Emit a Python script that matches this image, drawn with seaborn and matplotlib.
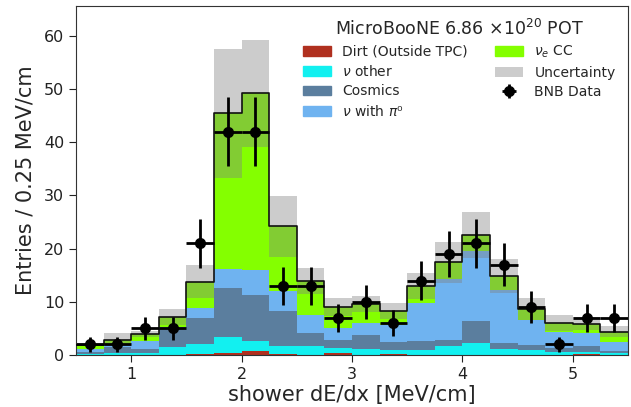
import numpy as np
import pandas as pd
import matplotlib
matplotlib.use("Agg")
import matplotlib.pyplot as plt
from matplotlib.patches import Patch
import seaborn as sns

# ---- data -------------------------------------------------------------
bin_edges = [0.5, 0.75, 1.0, 1.25, 1.5, 1.75, 2.0, 2.25, 2.5, 2.75, 3.0,
             3.25, 3.5, 3.75, 4.0, 4.25, 4.5, 4.75, 5.0, 5.25, 5.5]

dirt     = [0.0, 0.0, 0.0, 0.0, 0.2, 0.3, 0.8, 0.2, 0.0, 0.3,
            0.0, 0.15, 0.0, 0.0, 0.0, 0.0, 0.0, 0.0, 0.15, 0.0]
nu_other = [0.2, 0.3, 0.4, 1.5, 1.9, 3.1, 1.9, 1.5, 1.6, 1.0,
            1.2, 0.8, 0.9, 1.7, 2.2, 1.1, 0.9, 0.6, 0.5, 0.4]
cosmics  = [0.3, 1.2, 0.7, 3.4, 4.8, 9.1, 8.6, 6.6, 2.6, 1.5,
            2.6, 1.4, 1.8, 1.1, 4.1, 1.2, 1.0, 0.65, 1.1, 0.4]
nu_pi0   = [0.6, 0.4, 1.6, 0.3, 1.9, 3.6, 4.7, 3.7, 3.3, 2.2,
            2.2, 3.2, 7.1, 11.4, 13.2, 9.9, 4.7, 3.15, 2.4, 1.7]
nue_cc   = [0.8, 1.0, 1.3, 2.0, 5.0, 29.3, 33.2, 12.2, 6.4, 4.1,
            3.6, 2.8, 3.2, 3.2, 3.1, 2.6, 2.0, 1.7, 1.7, 1.9]
uncert   = [0.3, 1.2, 0.6, 1.5, 3.1, 12.1, 10.1, 5.7, 2.4, 1.7,
            1.5, 1.5, 2.4, 3.9, 4.3, 3.2, 2.1, 1.5, 1.2, 1.1]
bnb_data = [2, 2, 5, 5, 21, 42, 42, 13, 13, 7,
            10, 6, 14, 19, 21, 17, 9, 2, 7, 7]

labels = {
    "dirt": "Dirt (Outside TPC)",
    "nuother": r"$\nu$ other",
    "cosmics": "Cosmics",
    "pi0": r"$\nu$ with $\pi$⁰",
    "nuecc": r"$\nu_e$ CC",
}
colors = {
    "dirt": "#B0301F",
    "nuother": "#12F0F0",
    "cosmics": "#5B7E9E",
    "pi0": "#6FB3F0",
    "nuecc": "#84FF00",
}

# ---- build table -------------------------------------------------------
edges = np.array(bin_edges)
centers = 0.5 * (edges[:-1] + edges[1:])
bw = float(edges[1] - edges[0])
brange = (float(edges[0]), float(edges[-1]))
comps = {"dirt": dirt, "nuother": nu_other, "cosmics": cosmics,
         "pi0": nu_pi0, "nuecc": nue_cc}
rows = []
for key, vals in comps.items():
    for c, v in zip(centers, vals):
        rows.append({"x": c, "w": v, "comp": key})
df = pd.DataFrame(rows)
total = np.sum([np.array(v) for v in comps.values()], axis=0)
err = np.array(uncert)
data = np.array(bnb_data, dtype=float)
df_tot = pd.DataFrame({"x": centers, "w": total})

# ---- plot ---------------------------------------------------------------
sns.set_style("ticks")
plt.rcParams["font.family"] = ["DejaVu Sans"]
plt.rcParams["axes.edgecolor"] = "#333333"

fig = plt.figure(figsize=(6.31, 4.07), dpi=100)
ax = fig.add_axes([76 / 631, 1 - 355 / 407, (628 - 76) / 631, (355 - 6) / 407])

# stack: last hue level at the bottom
hue_order = ["nuecc", "pi0", "cosmics", "nuother", "dirt"]
sns.histplot(data=df, x="x", weights="w", hue="comp", hue_order=hue_order,
             palette=colors, multiple="stack", binwidth=bw, binrange=brange,
             element="step", fill=True, alpha=1, linewidth=0, legend=False,
             ax=ax)

# uncertainty band
ax.bar(edges[:-1], 2 * err, bottom=total - err, width=bw, align="edge",
       color="#808080", alpha=0.4, linewidth=0, zorder=3)

# total outline
sns.histplot(data=df_tot, x="x", weights="w", binwidth=bw, binrange=brange,
             element="step", fill=False, color="#111111", linewidth=1.2,
             ax=ax, zorder=4)

# data
eb = ax.errorbar(centers, data, xerr=bw / 2, yerr=np.sqrt(data), fmt="o",
                 color="black", ms=7, elinewidth=2, capsize=0, zorder=5)

ax.set_xlim(0.5, 5.5)
ax.set_ylim(0, 65.6)
ax.set_xticks([1, 2, 3, 4, 5])
ax.set_yticks([0, 10, 20, 30, 40, 50, 60])
ax.tick_params(labelsize=11.5, length=5, colors="#222222")
ax.set_xlabel("shower dE/dx [MeV/cm]", fontsize=15, labelpad=2)
ax.set_ylabel("Entries / 0.25 MeV/cm", fontsize=15, labelpad=6)

keys = ["dirt", "nuother", "cosmics", "pi0", "nuecc"]
handles = [Patch(color=colors[k]) for k in keys]
handles.append(Patch(color="#808080", alpha=0.4, linewidth=0))
handles.append(eb)
leg_labels = [labels[k] for k in keys] + ["Uncertainty", "BNB Data"]
ax.legend(handles, leg_labels, ncol=2, frameon=False, loc="upper right",
          fontsize=10, title="MicroBooNE 6.86 ×10$^{20}$ POT",
          title_fontsize=12.5, labelspacing=0.38)

fig.savefig("out.png", dpi=100)
